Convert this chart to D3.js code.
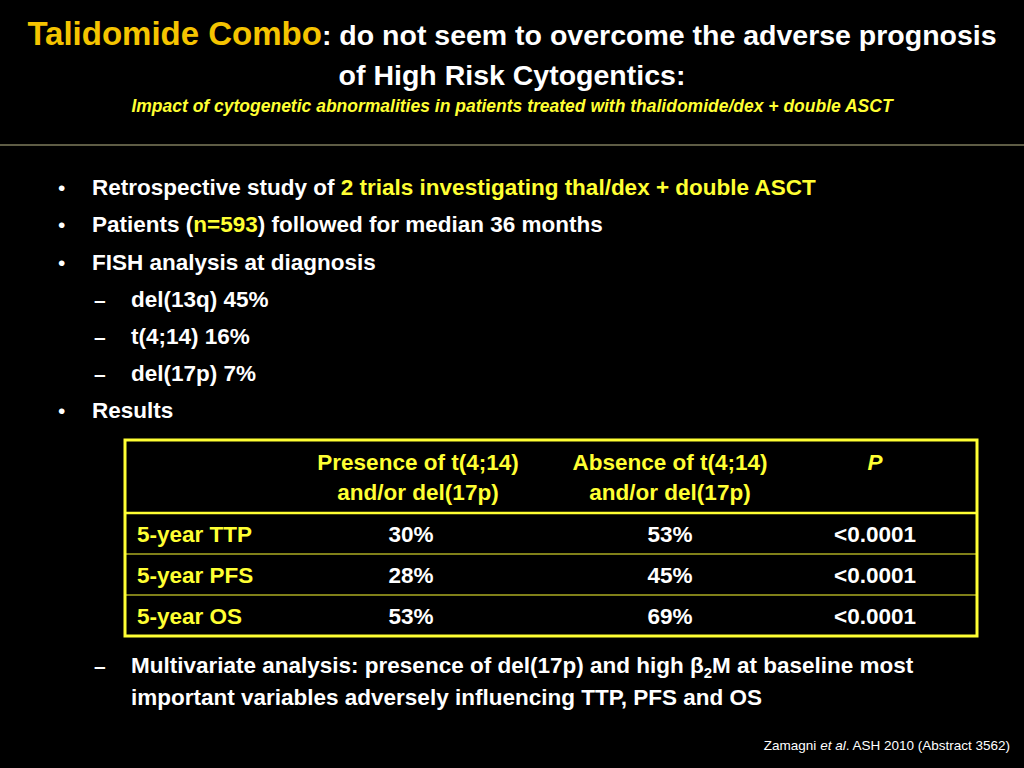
<!DOCTYPE html>
<html><head><meta charset="utf-8">
<script src="https://cdn.jsdelivr.net/npm/d3@7"></script>
<style>body{margin:0;background:#000}svg{display:block}text{font-family:Arial,"Liberation Sans",sans-serif}</style>
</head><body><svg id="c" width="1024" height="768"></svg>
<script>
const columns = ["Presence of t(4;14)|and/or del(17p)", "Absence of t(4;14)|and/or del(17p)", "P"];
const rowLabels = ["5-year TTP", "5-year PFS", "5-year OS"];
const presence = ["30%", "28%", "53%"];
const absence = ["53%", "45%", "69%"];
const pValues = ["<0.0001", "<0.0001", "<0.0001"];

const Y = "#ffff33", GOLD = "#f5c400", W = "#ffffff", FS = 22.5;
const svg = d3.select("#c");
svg.append("rect").attr("width",1024).attr("height",768).attr("fill","#000");
const txt = (sel)=>sel.append("text").style("font-weight","bold");

// Title
const t1 = txt(svg).attr("x",512).attr("y",45).attr("text-anchor","middle");
t1.append("tspan").attr("fill",GOLD).attr("font-size",33).text("Talidomide Combo");
t1.append("tspan").attr("fill",W).attr("font-size",28.5).text(": do not seem to overcome the adverse prognosis");
txt(svg).attr("x",512).attr("y",85).attr("text-anchor","middle").attr("fill",W).attr("font-size",28.5).text("of High Risk Cytogentics:");
txt(svg).attr("x",512).attr("y",112).attr("text-anchor","middle").attr("fill",Y).attr("font-size",17.5).attr("font-style","italic").text("Impact of cytogenetic abnormalities in patients treated with thalidomide/dex + double ASCT");
svg.append("line").attr("x1",0).attr("x2",1024).attr("y1",145).attr("y2",145).attr("stroke","#bdb98a").attr("stroke-width",1);

// Bullets
const bullets = [
 {lvl:0,y:195,parts:[["Retrospective study of ",W],["2 trials investigating thal/dex + double ASCT",Y]]},
 {lvl:0,y:232,parts:[["Patients (",W],["n=593",Y],[") followed for median 36 months",W]]},
 {lvl:0,y:270,parts:[["FISH analysis at diagnosis",W]]},
 {lvl:1,y:307,parts:[["del(13q) 45%",W]]},
 {lvl:1,y:344,parts:[["t(4;14) 16%",W]]},
 {lvl:1,y:381,parts:[["del(17p) 7%",W]]},
 {lvl:0,y:418,parts:[["Results",W]]}
];
bullets.forEach(b=>{
  svg.append("text").attr("x",b.lvl?94:58).attr("y",b.y).attr("fill",W).attr("font-size",21).style("font-weight",b.lvl?"bold":"normal").text(b.lvl?"–":"•");
  const t = txt(svg).attr("x",b.lvl?131:92).attr("y",b.y).attr("font-size",FS);
  b.parts.forEach(p=>t.append("tspan").attr("fill",p[1]).text(p[0]));
});

// Table
const tx0=125, tx1=977, ty0=440, ty1=636, headerBottom=513;
const yRow = d3.scaleBand().domain(rowLabels).range([headerBottom, ty1]);
const xc = c => c==="P"?875:(c===columns[0]?418:670);
const g = svg.append("g");
g.append("rect").attr("x",tx0).attr("y",ty0).attr("width",tx1-tx0).attr("height",ty1-ty0).attr("fill","none").attr("stroke",Y).attr("stroke-width",3);
g.append("line").attr("x1",tx0).attr("x2",tx1).attr("y1",headerBottom).attr("y2",headerBottom).attr("stroke",Y).attr("stroke-width",2.5);
rowLabels.slice(1).forEach(r=>g.append("line").attr("x1",tx0).attr("x2",tx1).attr("y1",yRow(r)).attr("y2",yRow(r)).attr("stroke",Y).attr("stroke-width",1));
columns.forEach(c=>{
  c.split("|").forEach((l,i)=>txt(g).attr("x",xc(c)).attr("y",470+i*30).attr("text-anchor","middle").attr("fill",Y).attr("font-size",FS).attr("font-style",c==="P"?"italic":"normal").text(l));
});
rowLabels.forEach((r,i)=>{
  const yb = yRow(r)+yRow.bandwidth()/2+8;
  txt(g).attr("x",137).attr("y",yb).attr("fill",Y).attr("font-size",FS).text(r);
  [[presence[i],411],[absence[i],670],[pValues[i],875]].forEach(([v,x])=>
    txt(g).attr("x",x).attr("y",yb).attr("text-anchor","middle").attr("fill",W).attr("font-size",FS).text(v));
});

// Multivariate
txt(svg).attr("x",94).attr("y",673).attr("fill",W).attr("font-size",21).text("–");
const m = txt(svg).attr("x",131).attr("y",673).attr("fill",W).attr("font-size",FS);
m.append("tspan").text("Multivariate analysis: presence of del(17p) and high β");
m.append("tspan").attr("font-size",15).attr("dy",5).text("2");
m.append("tspan").attr("dy",-5).text("M at baseline most");
txt(svg).attr("x",131).attr("y",705).attr("fill",W).attr("font-size",FS).text("important variables adversely influencing TTP, PFS and OS");

// Citation
const ct = svg.append("text").attr("x",1010).attr("y",750).attr("text-anchor","end").attr("fill",W).attr("font-size",13.5).style("font-weight","normal");
ct.append("tspan").text("Zamagni ");
ct.append("tspan").attr("font-style","italic").text("et al");
ct.append("tspan").text(". ASH 2010 (Abstract 3562)");
</script></body></html>
